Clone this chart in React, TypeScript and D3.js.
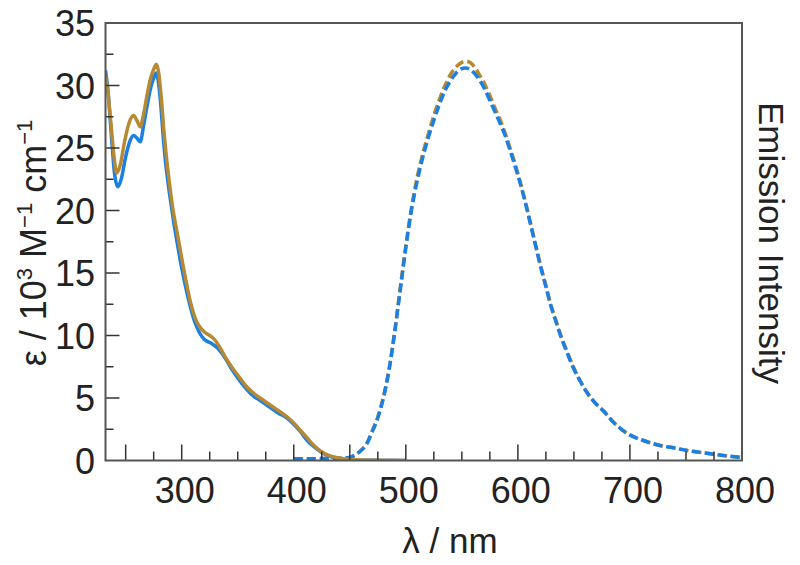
import React from "react";
import * as d3 from "d3";

// Absorption (solid) – blue sample
const absBlueNm = [232, 234, 237, 240, 243, 246, 250, 254, 257, 260, 263, 266, 269, 272, 275, 277.5, 279, 281, 283, 285, 287, 290, 293, 296, 300, 304, 308, 312, 316, 320, 326, 332, 338, 344, 350, 356, 362, 370, 378, 386, 394, 400, 406, 412, 418, 424, 430, 440, 450, 470, 500];
const absBlueVal = [31.2, 29.8, 26.3, 23.0, 21.9, 22.5, 24.3, 25.6, 26.0, 25.8, 25.5, 26.8, 28.3, 29.7, 30.6, 31.0, 30.4, 28.8, 26.5, 24.4, 22.8, 20.8, 19.0, 17.4, 15.4, 13.7, 12.2, 11.0, 10.2, 9.7, 9.4, 9.0, 8.3, 7.4, 6.6, 5.9, 5.3, 4.8, 4.3, 3.8, 3.4, 2.9, 2.3, 1.6, 1.1, 0.7, 0.4, 0.15, 0.05, 0.02, 0];

// Absorption (solid) – gold sample
const absGoldNm = [232, 234, 237, 240, 242, 245, 249, 253, 257, 260, 263, 266, 269, 272, 275, 277.5, 279.5, 282, 284, 286, 289, 292, 296, 300, 304, 308, 312, 316, 320, 325, 330, 335, 340, 346, 352, 358, 364, 370, 378, 386, 394, 400, 406, 412, 418, 424, 430, 440, 450, 470, 500];
const absGoldVal = [30.8, 29.6, 26.8, 24.0, 23.0, 23.6, 25.5, 27.0, 27.6, 27.2, 26.7, 27.7, 29.2, 30.5, 31.3, 31.7, 31.0, 28.8, 26.5, 24.6, 22.2, 20.2, 18.2, 16.2, 14.3, 12.6, 11.4, 10.7, 10.3, 10.0, 9.6, 8.9, 8.1, 7.3, 6.6, 5.9, 5.4, 5.0, 4.5, 4.0, 3.5, 3.0, 2.4, 1.8, 1.2, 0.75, 0.45, 0.2, 0.08, 0.02, 0];

// Emission (dashed) – blue sample
const emBlueNm = [400, 420, 440, 450, 455, 460, 465, 470, 475, 480, 485, 490, 495, 500, 505, 510, 515, 520, 525, 530, 535, 540, 545, 550, 553, 557, 561, 566, 571, 575, 580, 584, 589, 593, 598, 602, 607, 611, 616, 620, 625, 629, 634, 638, 644, 650, 656, 662, 669, 676, 686, 697, 712, 727, 740, 751, 763, 775, 788, 800];
const emBlueVal = [0.15, 0.15, 0.18, 0.25, 0.45, 0.8, 1.3, 2.3, 3.4, 5.0, 7.2, 10.2, 13.6, 17.0, 20.0, 22.3, 24.2, 25.8, 27.2, 28.5, 29.6, 30.4, 31.0, 31.35, 31.4, 31.3, 31.0, 30.4, 29.6, 28.8, 27.8, 27.0, 25.9, 24.8, 23.4, 22.2, 20.5, 19.0, 17.1, 15.6, 13.9, 12.5, 11.1, 10.0, 8.6, 7.3, 6.3, 5.4, 4.6, 4.0, 3.0, 2.2, 1.6, 1.2, 1.0, 0.8, 0.65, 0.5, 0.35, 0.24];

// Emission (dashed) – gold sample
const emGoldNm = [400, 420, 440, 450, 455, 460, 465, 470, 475, 480, 485, 490, 495, 500, 505, 510, 515, 520, 525, 530, 535, 540, 545, 550, 554, 558, 562, 566, 571, 575, 580, 584, 589, 593, 598, 602, 607, 611, 616, 620, 625, 629, 634, 638, 644, 650, 656, 662, 669, 676, 686, 697, 712, 727, 740, 751, 763, 775, 788, 800];
const emGoldVal = [0.15, 0.15, 0.18, 0.25, 0.45, 0.8, 1.35, 2.35, 3.5, 5.1, 7.3, 10.3, 13.8, 17.2, 20.2, 22.6, 24.5, 26.1, 27.6, 28.9, 30.0, 30.9, 31.5, 31.85, 31.95, 31.8, 31.4, 30.8, 30.0, 29.2, 28.1, 27.3, 26.1, 25.0, 23.6, 22.3, 20.6, 19.1, 17.2, 15.7, 14.0, 12.6, 11.2, 10.1, 8.7, 7.4, 6.3, 5.4, 4.6, 4.0, 3.0, 2.2, 1.6, 1.2, 1.0, 0.8, 0.65, 0.5, 0.35, 0.24];

const xTickLabels = [300, 400, 500, 600, 700, 800];
const xMinorTicks = [250, 275, 300, 325, 350, 375, 400, 425, 450, 475, 500, 525, 550, 575, 600, 625, 650, 675, 700, 725, 750, 775];
const xLongTicks = [250, 300, 400, 450, 500, 600, 700];
const yTickLabels = [0, 5, 10, 15, 20, 25, 30, 35];
const yMinorTicks = [2.5, 5, 7.5, 10, 12.5, 15, 17.5, 20, 22.5, 25, 27.5, 30, 32.5];

const BLUE = "#1c7fe2";
const GOLD = "#b68a34";
const TXT = "#222";
const FONT = "'Liberation Sans', Arial, Helvetica, sans-serif";

export default function App() {
  const left = 105.5, right = 742, top = 23, bottom = 460.5;
  const x = d3.scaleLinear().domain([232, 800]).range([left, right]);
  const y = d3.scaleLinear().domain([0, 35]).range([bottom, top]);
  const line = d3
    .line<[number, number]>()
    .x((d) => x(d[0]))
    .y((d) => y(d[1]))
    .curve(d3.curveMonotoneX);
  const zip = (a: number[], b: number[]) => a.map((v, i) => [v, b[i]] as [number, number]);

  return (
    <svg width={800} height={565} style={{ position: "absolute", left: 0, top: 0, background: "#fff" }} fontFamily={FONT}>
      <rect x={0} y={0} width={800} height={565} fill="#fff" />
      <defs>
        <clipPath id="plot">
          <rect x={left} y={top - 5} width={right - left} height={bottom - top + 5} />
        </clipPath>
      </defs>
      <g clipPath="url(#plot)">
        <path d={line(zip(emGoldNm, emGoldVal)) || ""} fill="none" stroke={GOLD} strokeWidth={3.5} strokeDasharray="9,4" />
        <path d={line(zip(emBlueNm, emBlueVal)) || ""} fill="none" stroke={BLUE} strokeWidth={3.5} strokeDasharray="9,4" />
        <path d={line(zip(absBlueNm, absBlueVal)) || ""} fill="none" stroke={BLUE} strokeWidth={3.5} />
        <path d={line(zip(absGoldNm, absGoldVal)) || ""} fill="none" stroke={GOLD} strokeWidth={3.5} />
      </g>
      {/* x ticks */}
      {xMinorTicks.map((t) => (
        <line key={"xm" + t} x1={x(t)} x2={x(t)} y1={bottom} y2={bottom - (xLongTicks.includes(t) ? 16 : 9)} stroke="#333" strokeWidth={1.5} />
      ))}
      {/* y ticks */}
      {yMinorTicks.map((t) => (
        <line key={"ym" + t} x1={left} x2={left + (t % 5 === 0 ? 14 : 8)} y1={y(t)} y2={y(t)} stroke="#333" strokeWidth={1.5} />
      ))}
      {/* frame */}
      <rect x={left} y={top} width={right - left} height={bottom - top} fill="none" stroke="#555" strokeWidth={2} />
      {/* tick labels */}
      {xTickLabels.map((t) => (
        <text key={"xl" + t} x={x(t) + 3} y={503} textAnchor="middle" fontSize={36} fill={TXT}>
          {t}
        </text>
      ))}
      {yTickLabels.map((t) => (
        <text key={"yl" + t} x={95} y={y(t) + 13} textAnchor="end" fontSize={36} fill={TXT}>
          {t}
        </text>
      ))}
      {/* axis titles */}
      <text x={450} y={553} textAnchor="middle" fontSize={35} fill={TXT}>
        λ / nm
      </text>
      <text transform="translate(46,243) rotate(-90)" textAnchor="middle" fontSize={36} fill={TXT}>
        ε / 10<tspan dy={-14} fontSize={22}>3</tspan>
        <tspan dy={14}> M</tspan>
        <tspan dy={-14} fontSize={22}>−1</tspan>
        <tspan dy={14}> cm</tspan>
        <tspan dy={-14} fontSize={22}>−1</tspan>
      </text>
      <text transform="translate(759,243) rotate(90)" textAnchor="middle" fontSize={35} fill={TXT}>
        Emission Intensity
      </text>
    </svg>
  );
}
